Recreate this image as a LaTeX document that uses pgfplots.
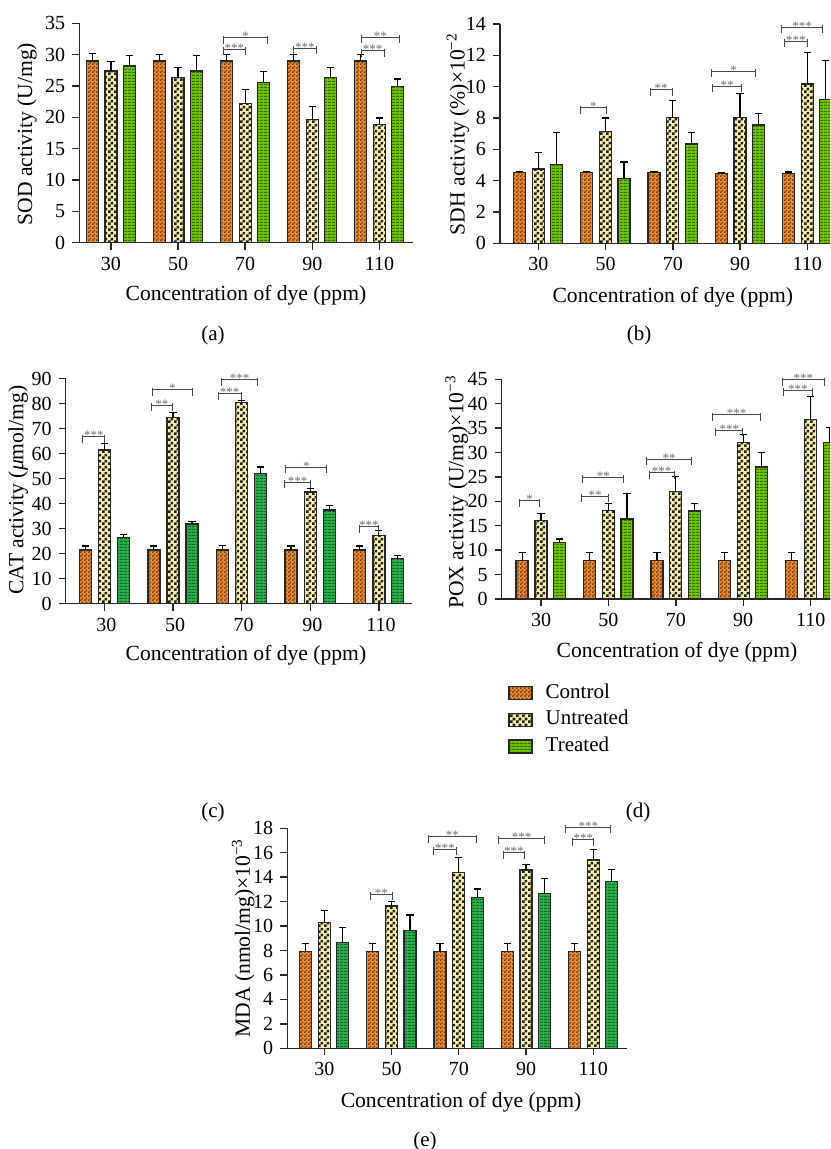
\documentclass[border=0pt]{standalone}
\usepackage{pgfplots}
\pgfplotsset{compat=1.18}
\usepackage{pgfplotstable}
\usetikzlibrary{patterns}
\usepackage{fontspec}
\setmainfont{Liberation Serif}

\definecolor{ctrlfill}{RGB}{240,140,45}
\definecolor{ctrldark}{RGB}{115,62,20}
\definecolor{untrfill}{RGB}{250,240,165}
\definecolor{untrdark}{RGB}{30,30,30}
\definecolor{trfill}{RGB}{112,196,0}
\definecolor{trdark}{RGB}{50,115,0}
\definecolor{trtwofill}{RGB}{42,178,74}
\definecolor{trtwodark}{RGB}{15,105,40}
\definecolor{brkcol}{RGB}{70,70,70}
\definecolor{starcol}{RGB}{110,110,110}

\pgfdeclarepatternformonly{ctrlcheck}{\pgfqpoint{0pt}{0pt}}{\pgfqpoint{2pt}{2pt}}{\pgfqpoint{2pt}{2pt}}{%
  \pgfpathrectangle{\pgfqpoint{0pt}{0pt}}{\pgfqpoint{1pt}{1pt}}%
  \pgfpathrectangle{\pgfqpoint{1pt}{1pt}}{\pgfqpoint{1pt}{1pt}}%
  \pgfusepath{fill}}
\pgfdeclarepatternformonly{untrcheck}{\pgfqpoint{0pt}{0pt}}{\pgfqpoint{3pt}{3pt}}{\pgfqpoint{3pt}{3pt}}{%
  \pgfpathrectangle{\pgfqpoint{0pt}{0pt}}{\pgfqpoint{1.5pt}{1.5pt}}%
  \pgfpathrectangle{\pgfqpoint{1.5pt}{1.5pt}}{\pgfqpoint{1.5pt}{1.5pt}}%
  \pgfusepath{fill}}
\pgfdeclarepatternformonly{trstripes}{\pgfqpoint{0pt}{0pt}}{\pgfqpoint{2pt}{1.6pt}}{\pgfqpoint{2pt}{1.6pt}}{%
  \pgfpathrectangle{\pgfqpoint{0pt}{0pt}}{\pgfqpoint{2pt}{0.7pt}}%
  \pgfusepath{fill}}

\pgfplotstableread{
g c ce u ue t te
0 29.0 1.2 27.4 1.5 28.2 1.7
1 29.0 1.05 26.3 1.6 27.4 2.4
2 29.0 1.0 22.2 2.3 25.6 1.7
3 29.0 1.0 19.6 2.1 26.3 1.6
4 29.0 1.0 18.9 1.0 24.9 1.2
}\sod
\pgfplotstableread{
g c ce u ue t te
0 4.5 0.08 4.74 1.07 5.04 2.05
1 4.5 0.08 7.15 0.85 4.15 1.04
2 4.5 0.08 8.04 1.09 6.34 0.75
3 4.45 0.08 8.04 1.51 7.55 0.71
4 4.47 0.08 10.17 2.02 9.17 2.51
}\sdh
\pgfplotstableread{
g c ce u ue t te
0 21.5 1.6 61.5 2.6 26.4 1.3
1 21.5 1.6 74.5 2.0 31.9 0.9
2 21.5 1.7 80.5 0.7 52.1 2.6
3 21.5 1.6 44.7 1.4 37.5 1.8
4 21.5 1.6 27.3 1.9 18.0 1.2
}\cat
\pgfplotstableread{
g c ce u ue t te
0 7.9 1.6 16.1 1.45 11.5 0.8
1 7.9 1.6 18.1 1.4 16.4 5.2
2 7.9 1.6 22.0 3.1 18.0 1.6
3 7.9 1.6 32.0 1.7 27.05 2.95
4 7.9 1.6 36.7 4.8 32.0 3.1
}\pox
\pgfplotstableread{
g c ce u ue t te
0 7.9 0.7 10.28 0.98 8.64 1.26
1 7.9 0.7 11.64 0.36 9.63 1.27
2 7.9 0.7 14.37 1.23 12.35 0.69
3 7.9 0.7 14.6 0.45 12.65 1.25
4 7.9 0.7 15.4 0.85 13.64 0.96
}\mda

\pgfplotsset{
  panel/.style={scale only axis, anchor=south west, axis lines=left,
    axis line style={-, line width=0.7pt, black!85},
    clip=false, enlargelimits=false, ymin=0,
    xtick={0,1,2,3,4}, xticklabels={30,50,70,90,110},
    tick align=outside, major tick length=3.5pt,
    tick style={line width=0.7pt, black!85},
    minor tick num=0,
    tick label style={font=\fontsize{10}{12}\selectfont},
    label style={font=\fontsize{10.8}{13}\selectfont},
    /pgf/number format/assume math mode=true},
  bars/.style={ybar, bar width=6pt, bar shift=0pt, draw=black!85, line width=0.65pt,
    /pgfplots/error bars/y dir=plus, /pgfplots/error bars/y explicit,
    /pgfplots/error bars/error bar style={black, line width=0.6pt, solid},
    /pgfplots/error bars/error mark options={rotate=90, black, mark size=1.8pt, line width=0.6pt}},
  legsq/.style={legend image code/.code={\draw[##1] (0pt,-3.25pt) rectangle (11.5pt,3.25pt);}},
  ctrl/.style={bars, fill=ctrlfill, postaction={pattern=ctrlcheck, pattern color=ctrldark}, legsq},
  untr/.style={bars, fill=untrfill, postaction={pattern=untrcheck, pattern color=untrdark}, legsq},
  trt/.style={bars, fill=trfill, postaction={pattern=trstripes, pattern color=trdark}, legsq},
  trttwo/.style={bars, fill=trtwofill, postaction={pattern=trstripes, pattern color=trtwodark}, legsq},
}
\tikzset{
  brkline/.style={brkcol, line width=0.5pt},
  stars/.style={anchor=base, yshift=-1.5pt, inner sep=0pt, font=\fontsize{6.5}{7}\selectfont, text=starcol}
}
\newcommand\sigbr[4]{%
  \draw[brkline] (axis cs:#1,#3) ++(0pt,1pt) -- ++(0pt,-4pt) (axis cs:#1,#3) -- (axis cs:#2,#3) ++(0pt,1pt) -- ++(0pt,-4pt);
  \node[stars] at (axis cs:{(#1+#2)/2},#3) {#4};}

\begin{document}
\begin{tikzpicture}
\useasboundingbox (0,0) rectangle (415pt,574.5pt);
\clip (0,0) rectangle (415pt,574.5pt);

% (a) SOD
\begin{axis}[panel, at={(39.65pt,453.15pt)}, width=166.85pt, height=109.7pt,
  xmin=-0.4724, xmax=4.501, ymax=35, ytick distance=5,
  xlabel={Concentration of dye (ppm)}, ylabel={SOD activity (U/mg)},
  xlabel style={at={(axis description cs:0.4995,-0.238)}, anchor=center},
  ylabel style={at={(axis description cs:-0.157,0.495)}, anchor=center}]
\addplot[ctrl] table[x expr=\thisrow{g}-0.28, y=c, y error=ce] {\sod};
\addplot[untr] table[x=g, y=u, y error=ue] {\sod};
\addplot[trt] table[x expr=\thisrow{g}+0.275, y=t, y error=te] {\sod};
\sigbr{1.674}{2.007}{30.85}{***}
\sigbr{1.674}{2.335}{32.7}{*}
\sigbr{2.717}{3.065}{31.0}{***}
\sigbr{3.726}{4.069}{30.6}{***}
\sigbr{3.726}{4.307}{32.8}{**}
\end{axis}

% (b) SDH
\begin{axis}[panel, at={(250pt,452.85pt)}, width=172.5pt, height=109.65pt,
  xmin=-0.5695, xmax=4.5605, ymax=14, ytick distance=2,
  xlabel={Concentration of dye (ppm)}, ylabel={SDH activity (\%)×10\textsuperscript{−2}},
  xlabel style={at={(axis description cs:0.501,-0.245)}, anchor=center},
  ylabel style={at={(axis description cs:-0.1217,0.498)}, anchor=center}]
\addplot[ctrl] table[x expr=\thisrow{g}-0.28, y=c, y error=ce] {\sdh};
\addplot[untr] table[x=g, y=u, y error=ue] {\sdh};
\addplot[trt] table[x expr=\thisrow{g}+0.275, y=t, y error=te] {\sdh};
\sigbr{0.630}{1.011}{8.66}{*}
\sigbr{1.661}{1.988}{9.79}{**}
\sigbr{2.593}{3.024}{10.04}{**}
\sigbr{2.578}{3.232}{10.98}{*}
\sigbr{3.658}{4.0}{12.9}{***}
\sigbr{3.619}{4.223}{13.79}{***}
\end{axis}

% (c) CAT
\begin{axis}[panel, at={(32.85pt,272.65pt)}, width=173.3pt, height=112.5pt,
  xmin=-0.5656, xmax=4.487, ymax=90, ytick distance=10,
  xticklabel style={xshift=1pt},
  xlabel={Concentration of dye (ppm)}, ylabel={CAT activity ({\itshape μ}mol/mg)},
  xlabel style={at={(axis description cs:0.520,-0.228)}, anchor=center},
  ylabel style={at={(axis description cs:-0.1368,0.505)}, anchor=center}]
\addplot[ctrl] table[x expr=\thisrow{g}-0.28, y=c, y error=ce] {\cat};
\addplot[untr] table[x=g, y=u, y error=ue] {\cat};
\addplot[trttwo] table[x expr=\thisrow{g}+0.275, y=t, y error=te] {\cat};
\sigbr{-0.318}{0.007}{66.8}{***}
\sigbr{0.678}{0.994}{79.3}{**}
\sigbr{0.702}{1.276}{85.5}{*}
\sigbr{1.659}{1.990}{83.9}{***}
\sigbr{1.708}{2.233}{89.5}{***}
\sigbr{2.617}{3.010}{48.5}{***}
\sigbr{2.641}{3.243}{54.5}{*}
\sigbr{3.710}{4.001}{30.8}{***}
\end{axis}

% (d) POX
\begin{axis}[panel, at={(250.85pt,275pt)}, width=171.65pt, height=109.85pt,
  xmin=-0.583, xmax=4.51, ymax=45, ytick distance=5,
  xlabel={Concentration of dye (ppm)}, ylabel={POX activity (U/mg)×10\textsuperscript{−3}},
  xlabel style={at={(axis description cs:0.5106,-0.241)}, anchor=center},
  ylabel style={at={(axis description cs:-0.131,0.487)}, anchor=center},
  legend cell align=left,
  legend style={at={(axis description cs:0.0184,-0.3764)}, anchor=north west,
    draw=none, fill=none, inner sep=0pt, row sep=2.35pt, column sep=5.5pt,
    font=\fontsize{10.5}{12}\selectfont,
    nodes={inner sep=1pt, text height=7pt, text depth=2pt}}]
\addplot[ctrl] table[x expr=\thisrow{g}-0.28, y=c, y error=ce] {\pox};
\addlegendentry{Control}
\addplot[untr] table[x=g, y=u, y error=ue] {\pox};
\addlegendentry{Untreated}
\addplot[trt] table[x expr=\thisrow{g}+0.275, y=t, y error=te] {\pox};
\addlegendentry{Treated}
\sigbr{-0.326}{-0.015}{20.1}{*}
\sigbr{0.603}{0.999}{21.0}{**}
\sigbr{0.618}{1.231}{24.9}{**}
\sigbr{1.607}{1.973}{25.9}{***}
\sigbr{1.568}{2.235}{28.6}{**}
\sigbr{2.596}{2.993}{34.6}{***}
\sigbr{2.547}{3.259}{37.7}{***}
\sigbr{3.595}{4.026}{42.8}{***}
\sigbr{3.580}{4.203}{44.9}{***}
\end{axis}

% (e) MDA
\begin{axis}[panel, at={(143.65pt,50.35pt)}, width=170pt, height=110pt,
  xmin=-0.55, xmax=4.506, ymax=18, ytick distance=2,
  xlabel={Concentration of dye (ppm)}, ylabel={MDA (nmol/mg)×10\textsuperscript{−3}},
  xlabel style={at={(axis description cs:0.511,-0.243)}, anchor=center},
  ylabel style={at={(axis description cs:-0.130,0.501)}, anchor=center}]
\addplot[ctrl] table[x expr=\thisrow{g}-0.28, y=c, y error=ce] {\mda};
\addplot[untr] table[x=g, y=u, y error=ue] {\mda};
\addplot[trttwo] table[x expr=\thisrow{g}+0.275, y=t, y error=te] {\mda};
\sigbr{0.690}{1.011}{12.6}{**}
\sigbr{1.621}{1.969}{16.28}{***}
\sigbr{1.547}{2.266}{17.3}{**}
\sigbr{2.672}{2.970}{16.0}{***}
\sigbr{2.587}{3.282}{17.2}{***}
\sigbr{3.694}{4.010}{17.05}{***}
\sigbr{3.594}{4.259}{18.08}{***}
\end{axis}

\node[font=\fontsize{10.5}{12}\selectfont] at (106.5pt,407pt) {(a)};
\node[font=\fontsize{10.5}{12}\selectfont] at (319.5pt,407pt) {(b)};
\node[font=\fontsize{10.5}{12}\selectfont] at (106.5pt,168.5pt) {(c)};
\node[font=\fontsize{10.5}{12}\selectfont] at (319pt,168.5pt) {(d)};
\node[font=\fontsize{10.5}{12}\selectfont] at (212.5pt,3.65pt) {(e)};
\end{tikzpicture}
\end{document}
